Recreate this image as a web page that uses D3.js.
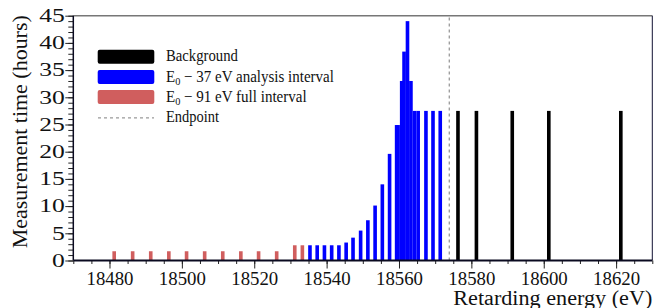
<!DOCTYPE html>
<html>
<head>
<meta charset="utf-8">
<script src="https://cdn.jsdelivr.net/npm/d3@7"></script>
<style>
  body { margin: 0; background: #fff; }
</style>
</head>
<body>
<script>
// retarding energies (eV) and measurement times (hours)
const fullEnergy = [18481.3, 18486.4, 18491.4, 18496.4, 18501.3, 18506.3, 18511.3,
  18516.3, 18521.2, 18526.2, 18531.2, 18533.3];
const fullTime = [1.7, 1.7, 1.7, 1.7, 1.7, 1.7, 1.7, 1.7, 1.7, 1.7, 2.8, 2.8];

const analysisEnergy = [18535.4, 18537.4, 18539.4, 18541.4, 18543.4, 18545.4, 18547.3,
  18549.4, 18551.4, 18553.4, 18555.4, 18557.4, 18559.35, 18559.75, 18560.75, 18561.4,
  18562.35, 18563.3, 18564.3, 18565.3, 18567.45, 18569.4, 18571.4];
const analysisTime = [2.8, 2.8, 2.8, 2.8, 2.8, 3.3, 4.2, 5.5, 7.4, 10.1, 14.0, 19.6,
  24.9, 24.9, 33.0, 38.4, 44.0, 33.0, 27.5, 27.5, 27.5, 27.5, 27.5];

const bgEnergy = [18576.3, 18581.4, 18591.3, 18601.4, 18621.3];
const bgTime = [27.5, 27.5, 27.5, 27.5, 27.5];

const endpoint = 18573.9;
const xTicks = [18480, 18500, 18520, 18540, 18560, 18580, 18600, 18620];
const yTicks = [0, 5, 10, 15, 20, 25, 30, 35, 40, 45];

const serif = '"Liberation Serif", "Times New Roman", "DejaVu Serif", serif';
const width = 667, height = 308;
const padLeft = 73.3, padRight = 652.3, padTop = 15.7, padBottom = 260.5;

const svg = d3.select("body").append("svg")
  .attr("width", width).attr("height", height);

const x = d3.scaleLinear().domain([18470, 18630]).range([padLeft, padRight]);
const y = d3.scaleLinear().domain([0, 45]).range([padBottom, padTop]);

// stretch a horizontal text to a given width about its anchor x
function fitWidth(sel, target, ax) {
  const len = sel.node().getComputedTextLength();
  if (len > 0) {
    const k = target / len;
    sel.attr("transform", `translate(${ax},0) scale(${k},1) translate(${-ax},0)`);
  }
}

// frame: top and right
svg.append("line").attr("x1", padLeft).attr("x2", padRight).attr("y1", padTop).attr("y2", padTop)
  .attr("stroke", "#777").attr("stroke-width", 1.5);
svg.append("line").attr("x1", padRight).attr("x2", padRight).attr("y1", padTop).attr("y2", padBottom)
  .attr("stroke", "#113").attr("stroke-width", 1);

// bars
function drawBars(energy, time, color) {
  svg.append("g").selectAll("rect")
    .data(energy)
    .enter()
    .append("rect")
    .attr("x", (d) => x(d - 0.5))
    .attr("width", (d) => x(d + 0.5) - x(d - 0.5))
    .attr("y", (d, i) => y(time[i]))
    .attr("height", (d, i) => y(0) - y(time[i]))
    .attr("fill", color);
}
drawBars(fullEnergy, fullTime, "#d05e5e");
drawBars(analysisEnergy, analysisTime, "#0000ff");
drawBars(bgEnergy, bgTime, "#000");

// endpoint
svg.append("line")
  .attr("x1", x(endpoint)).attr("x2", x(endpoint))
  .attr("y1", y(0)).attr("y2", padTop)
  .attr("stroke", "#999").attr("stroke-width", 1.3)
  .attr("stroke-dasharray", "3,3");

// x axis
const xMinor = svg.append("g").attr("transform", `translate(0,${padBottom})`)
  .call(d3.axisBottom(x).tickValues(d3.range(18470, 18631, 5)).tickSize(3.5).tickFormat(""));
xMinor.select(".domain").remove();
xMinor.selectAll(".tick line").attr("stroke", "#222");
const xMajor = svg.append("g").attr("transform", `translate(0,${padBottom})`)
  .call(d3.axisBottom(x).tickValues(xTicks).tickSize(8).tickPadding(3).tickFormat(d3.format("d")));
xMajor.select(".domain").remove();
xMajor.selectAll(".tick line").attr("stroke", "#222");
xMajor.selectAll("text")
  .style("font-family", serif).style("font-size", "19px").style("fill", "#111")
  .attr("textLength", 47).attr("lengthAdjust", "spacingAndGlyphs");
svg.append("line").attr("x1", padLeft).attr("x2", padRight).attr("y1", padBottom).attr("y2", padBottom)
  .attr("stroke", "#0a0a20").attr("stroke-width", 2);

// y axis
const yMinor = svg.append("g").attr("transform", `translate(${padLeft},0)`)
  .call(d3.axisLeft(y).tickValues(d3.range(0, 46, 1)).tickSize(5).tickFormat(""));
yMinor.select(".domain").remove();
yMinor.selectAll(".tick line").attr("stroke", "#222");
const yMajor = svg.append("g").attr("transform", `translate(${padLeft},0)`)
  .call(d3.axisLeft(y).tickValues(yTicks).tickSize(8).tickPadding(0.5));
yMajor.select(".domain").remove();
yMajor.selectAll(".tick line").attr("stroke", "#222");
yMajor.selectAll("text")
  .style("font-family", serif).style("font-size", "18px").style("fill", "#111")
  .attr("textLength", (d) => String(d).length * 12.8)
  .attr("lengthAdjust", "spacingAndGlyphs");
svg.append("line").attr("x1", padLeft).attr("x2", padLeft).attr("y1", padTop).attr("y2", padBottom)
  .attr("stroke", "#0a0a20").attr("stroke-width", 1.5);

// axis titles
svg.append("text")
  .attr("transform", "translate(27.3,131.7) rotate(-90)")
  .attr("text-anchor", "middle")
  .attr("textLength", 233).attr("lengthAdjust", "spacingAndGlyphs")
  .style("font-family", serif).style("font-size", "21px").style("fill", "#111")
  .text("Measurement time (hours)");
svg.append("text")
  .attr("x", padRight).attr("y", 305)
  .attr("text-anchor", "end")
  .attr("textLength", 199).attr("lengthAdjust", "spacingAndGlyphs")
  .style("font-family", serif).style("font-size", "20.5px").style("fill", "#111")
  .text("Retarding energy (eV)");

// legend
const legendRows = [
  { kind: "box", color: "#000", label: ["Background"], w: 72 },
  { kind: "box", color: "#0000ff", label: ["E", "0", " \u2212 37 eV analysis interval"], w: 168 },
  { kind: "box", color: "#d05e5e", label: ["E", "0", " \u2212 91 eV full interval"], w: 140.7 },
  { kind: "line", color: "#999", label: ["Endpoint"], w: 53 },
];
const legend = svg.append("g");
legendRows.forEach((row, i) => {
  const cy = 56.7 + i * 20.2;
  if (row.kind === "box") {
    legend.append("rect").attr("x", 97.7).attr("y", cy - 7).attr("width", 56.6).attr("height", 14)
      .attr("rx", 2).attr("fill", row.color);
  } else {
    legend.append("line").attr("x1", 98).attr("x2", 154).attr("y1", cy + 0.5).attr("y2", cy + 0.5)
      .attr("stroke", row.color).attr("stroke-width", 1.3).attr("stroke-dasharray", "3,3");
  }
  const t = legend.append("text").attr("x", 166).attr("y", cy + 4.8)
    .style("font-family", serif).style("font-size", "16px").style("fill", "#111");
  if (row.label.length === 1) {
    t.text(row.label[0]);
  } else {
    t.append("tspan").text(row.label[0]);
    t.append("tspan").attr("dy", 3.5).style("font-size", "11px").text(row.label[1]);
    t.append("tspan").attr("dy", -3.5).text(row.label[2]);
  }
  fitWidth(t, row.w, 166);
});
</script>
</body>
</html>
